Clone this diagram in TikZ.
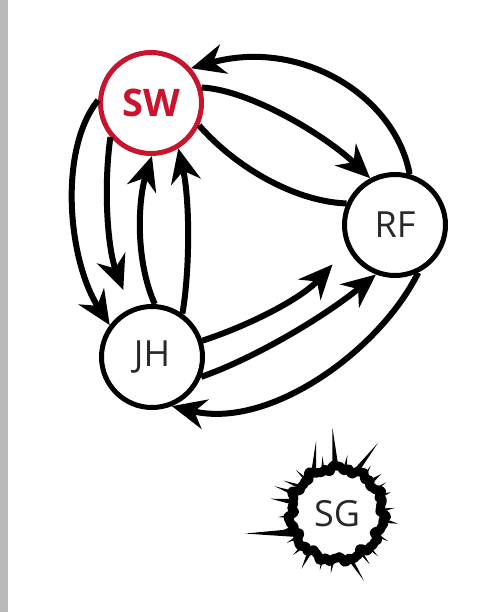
\documentclass[tikz,border=0pt]{standalone}
\usepackage{fontspec}
\setmainfont{Open Sans}
\usetikzlibrary{arrows.meta,calc}
\definecolor{swred}{RGB}{200,20,45}
\definecolor{lbl}{RGB}{40,40,40}
\definecolor{barg}{RGB}{185,185,185}
\begin{document}
\begin{tikzpicture}[x=1pt,y=-1pt,
  person/.style={circle, draw=black, line width=5pt, minimum size=101pt, inner sep=0pt,
    font=\fontsize{36}{36}\selectfont, text=lbl},
  link/.style={line width=6pt, -{Stealth[length=34pt,width=30pt,inset=11pt]}},
  plainlink/.style={line width=6pt},
  spike/.style={fill=black}
]
\useasboundingbox (0,0) rectangle (495,612);
\fill[barg] (0,0) rectangle (8,612);

\node[person, draw=swred, text=swred, font=\bfseries\fontsize{38}{38}\selectfont] (SW) at (151,103) {SW};
\node[person] (RF) at (395,225) {RF};
\node[person] (JH) at (152,357) {JH};
\node[circle, minimum size=88pt, inner sep=0pt, font=\fontsize{36}{36}\selectfont, text=lbl] (SG) at (337,514) {SG};

% connectors
\draw[link] (RF.74) .. controls (395,95) and (300,38) .. (SW.41);
\draw[link] (SW.17) .. controls (250,90) and (325,135) .. (RF.118);
\draw[plainlink] (SW.-25) .. controls (240,172) and (300,202) .. (RF.156);
\draw[link] (SW.177) .. controls (58,150) and (68,260) .. (JH.143);
\draw[link, shorten >=20pt] (SW.220) .. controls (103,190) and (108,250) .. (JH.114);
\draw[link] (JH.87) .. controls (135,260) and (138,200) .. (SW.271);
\draw[link] (JH.55) .. controls (190,270) and (190,200) .. (SW.301);
\draw[link, shorten >=22pt] (JH.18) .. controls (245,327) and (300,300) .. (RF.206);
\draw[link] (JH.-22) .. controls (250,360) and (320,320) .. (RF.249);
\draw[link] (RF.-64) .. controls (380,350) and (270,430) .. (JH.-68);

% SG spiky ring
\begin{scope}[shift={(SG.center)}]
\draw[line width=9pt, line join=round] plot[smooth cycle, samples=120, domain=0:357]
  ({(46+2*sin(11*\x)+1.5*sin(23*\x+40)+1.2*sin(37*\x+10))*cos(\x)},
   {(46+2*sin(11*\x)+1.5*sin(23*\x+40)+1.2*sin(37*\x+10))*sin(\x)});
\end{scope}
\foreach \a/\b/\c/\r in {88/96/93/86, 117/125/106/76, 63/70/60/82, 41/47/42/60,
  20/26/22/58, -11/-5/-9/62, -77/-71/-68/72, -97/-93/-96/60, -129/-123/-123/65,
  -139/-134/-137/60, 199/210/192/94, 161/168/167/68, 151/157/156/68,
  141/146/148/63, 180/185/183/59, 106/110/104/60, 78/82/80/60, 30/34/33/58,
  3/7/6/58, -30/-26/-28/58, -48/-44/-46/59, -60/-56/-57/60, -110/-106/-107/59,
  -152/-148/-150/58, -165/-161/-163/58, 130/134/133/60, 52/56/55/59}
  \fill[spike] ($(SG)+(\a:46pt)$) -- ($(SG)+(\c:\r pt)$) -- ($(SG)+(\b:46pt)$) -- cycle;
\end{tikzpicture}
\end{document}
